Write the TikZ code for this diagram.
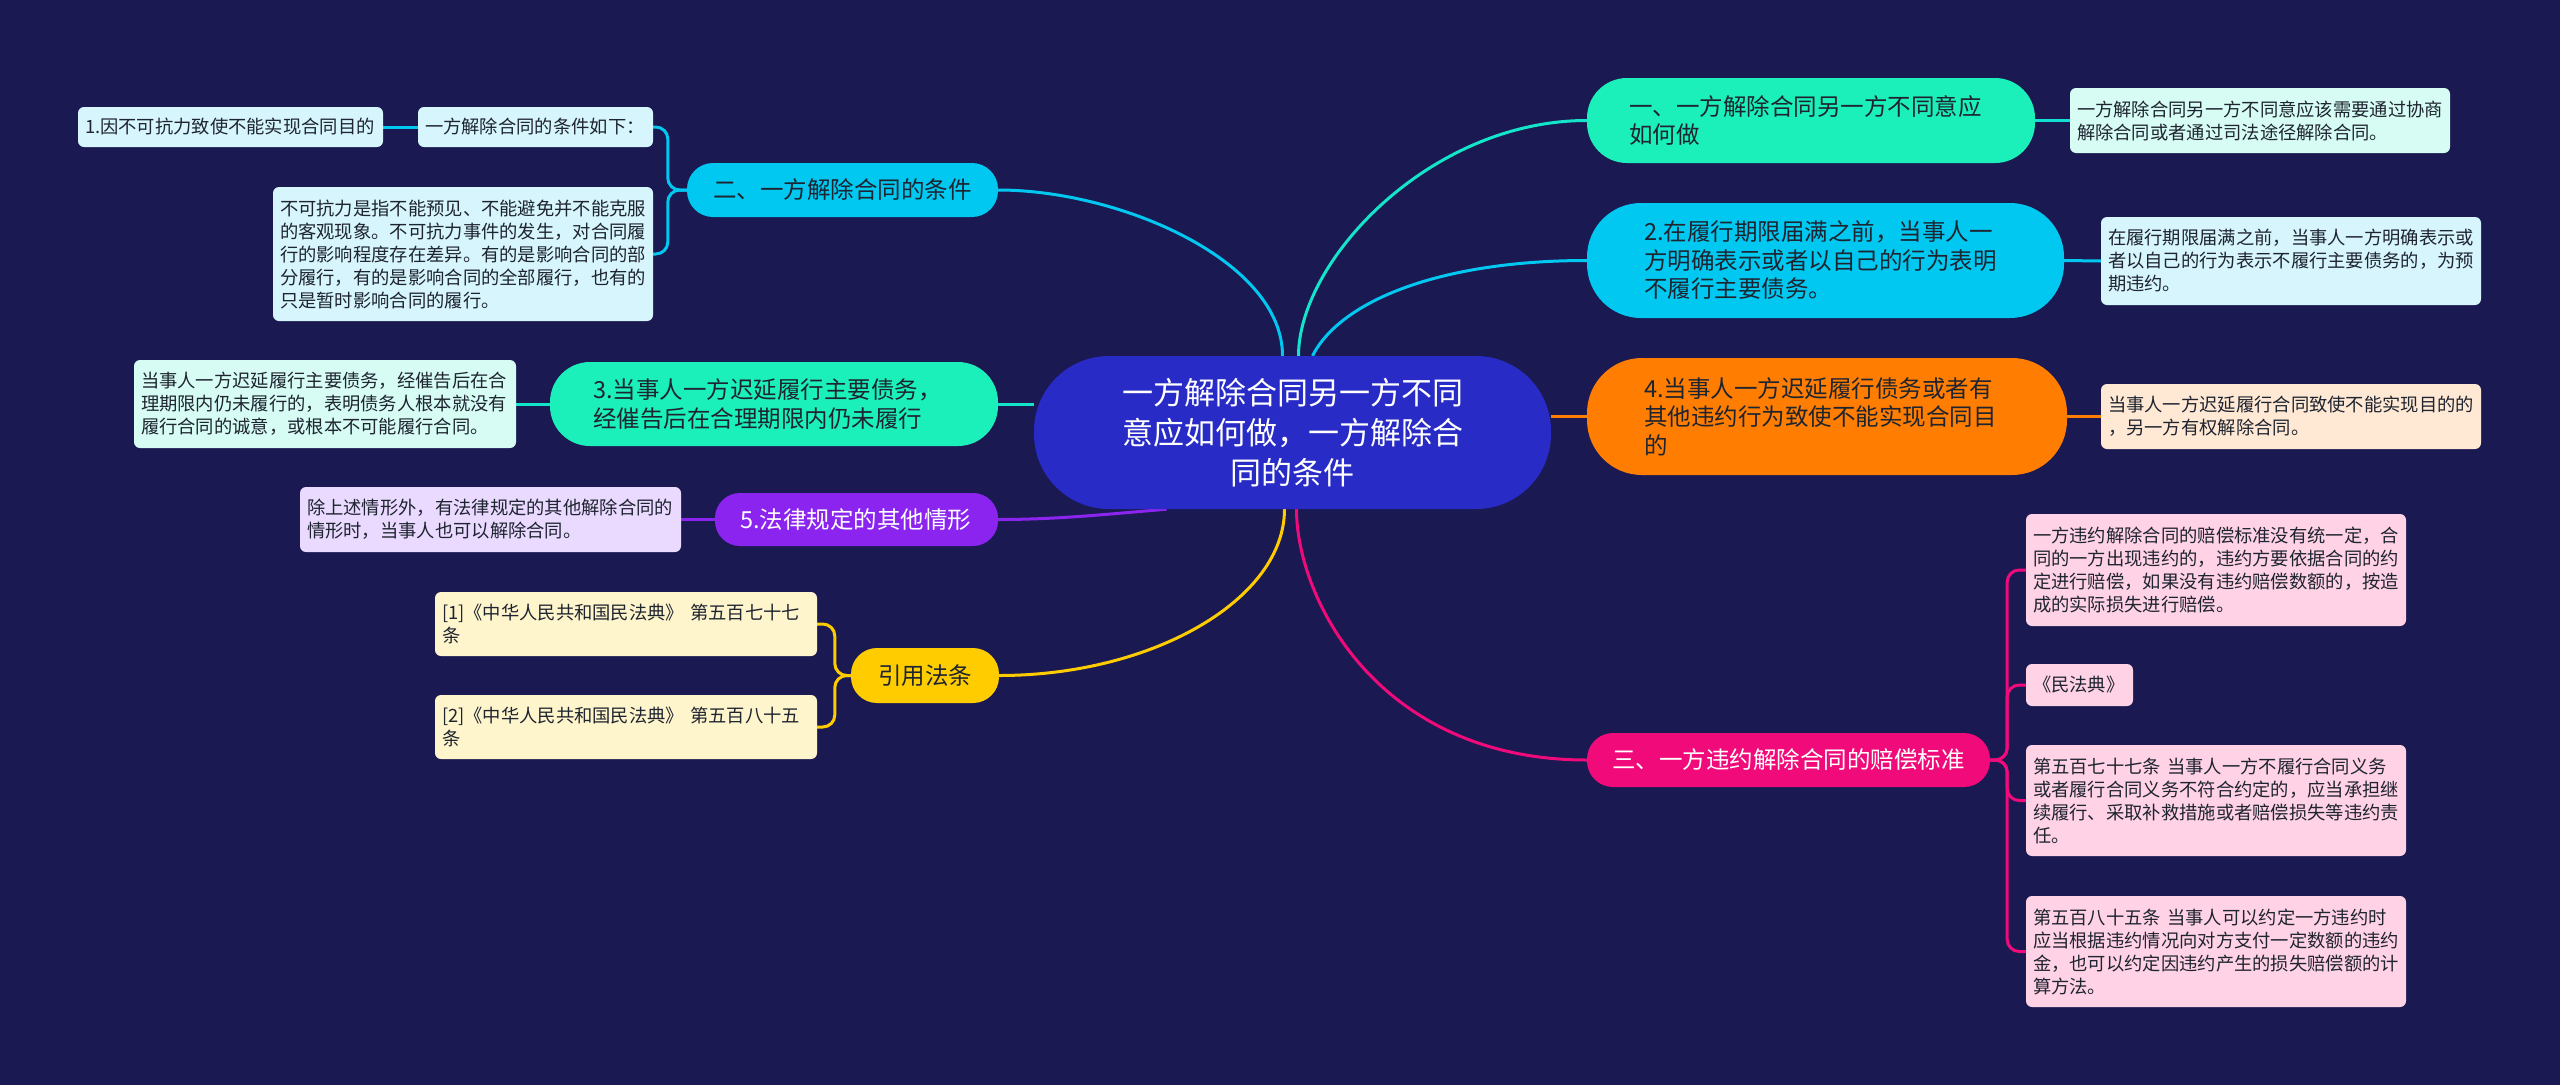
\documentclass[tikz,border=0pt]{standalone}
\usepackage{fontspec}
\setmainfont{Noto Sans CJK SC}
\usetikzlibrary{calc}
\definecolor{bgnavy}{RGB}{26,25,82}
\definecolor{rootblue}{RGB}{40,43,198}
\definecolor{mint}{RGB}{28,240,186}
\definecolor{sky}{RGB}{0,200,240}
\definecolor{orng}{RGB}{255,125,0}
\definecolor{mag}{RGB}{240,10,122}
\definecolor{purp}{RGB}{140,36,240}
\definecolor{gold}{RGB}{255,204,0}
\definecolor{mintlt}{RGB}{214,252,244}
\definecolor{skylt}{RGB}{214,245,252}
\definecolor{orngl}{RGB}{255,233,212}
\definecolor{pinklt}{RGB}{255,210,230}
\definecolor{purplt}{RGB}{234,218,255}
\definecolor{goldlt}{RGB}{255,245,204}
\definecolor{darktxt}{RGB}{30,36,48}
\pgfdeclarelayer{canvas}
\pgfdeclarelayer{wires}
\pgfsetlayers{canvas,wires,main}

\begin{document}
\begin{tikzpicture}[x=1pt,y=-1pt,
  root/.style={fill=rootblue,text=white,align=center,inner ysep=0pt,minimum height=153pt,
    rounded corners=75pt,font=\fontsize{31}{40}\selectfont},
  mainbox/.style={align=left,inner ysep=0pt,text=darktxt,font=\fontsize{23.5}{28.5}\selectfont},
  leaf/.style={align=left,inner ysep=0pt,inner xsep=7pt,text width=366pt,rounded corners=6pt,
    text=darktxt,font=\fontsize{18.3}{23}\selectfont},
  link/.style={line width=3pt},
  twig/.style={line width=3pt,rounded corners=12pt}]
% 배경
\begin{pgfonlayer}{canvas}
\fill[bgnavy] (0,0) rectangle (2560,1085);
\end{pgfonlayer}
\useasboundingbox (0,0) rectangle (2560,1085);
% 중심 노드
\node[root,text width=440pt,inner xsep=38.5pt] (root) at (1292.5,432.5)
  {一方解除合同另一方不同\\意应如何做，一方解除合\\同的条件};
% 오른쪽 가지
\node[mainbox,fill=mint,text width=364pt,inner xsep=42pt,minimum height=85pt,rounded corners=40pt]
  (b1) at (1811,120.5) {一、一方解除合同另一方不同意应\\如何做};
\node[leaf,fill=mintlt,minimum height=65pt] (c1) at (2260,120.5)
  {一方解除合同另一方不同意应该需要通过协商\\解除合同或者通过司法途径解除合同。};
\node[mainbox,fill=sky,text width=363pt,inner xsep=57pt,minimum height=115pt,rounded corners=54pt]
  (b2) at (1825.5,260.5) {2.在履行期限届满之前，当事人一\\方明确表示或者以自己的行为表明\\不履行主要债务。};
\node[leaf,fill=skylt,minimum height=88pt] (c2) at (2291,261)
  {在履行期限届满之前，当事人一方明确表示或\\者以自己的行为表示不履行主要债务的，为预\\期违约。};
\node[mainbox,fill=orng,text width=366pt,inner xsep=57pt,minimum height=117pt,rounded corners=55pt]
  (b3) at (1827,416.5) {4.当事人一方迟延履行债务或者有\\其他违约行为致使不能实现合同目\\的};
\node[leaf,fill=orngl,minimum height=65pt] (c3) at (2291,416.5)
  {当事人一方迟延履行合同致使不能实现目的的\\，另一方有权解除合同。};
\node[mainbox,fill=mag,text=white,text width=353pt,inner xsep=25pt,minimum height=54pt,rounded corners=26pt]
  (b4) at (1788.5,760) {三、一方违约解除合同的赔偿标准};
\node[leaf,fill=pinklt,minimum height=112pt] (d1) at (2216,570)
  {一方违约解除合同的赔偿标准没有统一定，合\\同的一方出现违约的，违约方要依据合同的约\\定进行赔偿，如果没有违约赔偿数额的，按造\\成的实际损失进行赔偿。};
\node[leaf,fill=pinklt,text width=93pt,minimum height=42pt] (d2) at (2079.5,685) {《民法典》};
\node[leaf,fill=pinklt,minimum height=111pt] (d3) at (2216,800.5)
  {第五百七十七条 当事人一方不履行合同义务\\或者履行合同义务不符合约定的，应当承担继\\续履行、采取补救措施或者赔偿损失等违约责\\任。};
\node[leaf,fill=pinklt,minimum height=111pt] (d4) at (2216,951.5)
  {第五百八十五条 当事人可以约定一方违约时\\应当根据违约情况向对方支付一定数额的违约\\金，也可以约定因违约产生的损失赔偿额的计\\算方法。};
% 왼쪽 가지
\node[mainbox,fill=sky,align=center,text width=259pt,inner xsep=26pt,minimum height=54pt,rounded corners=26pt]
  (a1) at (842.5,190) {二、一方解除合同的条件};
\node[leaf,fill=skylt,text width=221pt,minimum height=40pt] (e1) at (535.5,127) {一方解除合同的条件如下：};
\node[leaf,fill=skylt,text width=291pt,minimum height=40pt] (e11) at (230.5,127) {1.因不可抗力致使不能实现合同目的};
\node[leaf,fill=skylt,minimum height=134pt] (e2) at (463,254)
  {不可抗力是指不能预见、不能避免并不能克服\\的客观现象。不可抗力事件的发生，对合同履\\行的影响程度存在差异。有的是影响合同的部\\分履行，有的是影响合同的全部履行，也有的\\只是暂时影响合同的履行。};
\node[mainbox,fill=mint,text width=362pt,inner xsep=43pt,minimum height=84pt,rounded corners=40pt]
  (a2) at (774,404) {3.当事人一方迟延履行主要债务，\\经催告后在合理期限内仍未履行};
\node[leaf,fill=mintlt,text width=368pt,minimum height=88pt] (e3) at (325,404)
  {当事人一方迟延履行主要债务，经催告后在合\\理期限内仍未履行的，表明债务人根本就没有\\履行合同的诚意，或根本不可能履行合同。};
\node[mainbox,fill=purp,text=white,text width=233pt,inner xsep=25pt,minimum height=53pt,rounded corners=25pt]
  (a3) at (856.5,519.5) {5.法律规定的其他情形};
\node[leaf,fill=purplt,text width=367pt,minimum height=65pt] (e4) at (490.5,519.5)
  {除上述情形外，有法律规定的其他解除合同的\\情形时，当事人也可以解除合同。};
\node[mainbox,fill=gold,align=center,text width=100pt,inner xsep=24pt,minimum height=55pt,rounded corners=26pt]
  (a4) at (925,675.5) {引用法条};
\node[leaf,fill=goldlt,text width=368pt,minimum height=64pt] (e5) at (626,624)
  {[1]《中华人民共和国民法典》 第五百七十七\\条};
\node[leaf,fill=goldlt,text width=368pt,minimum height=64pt] (e6) at (626,727)
  {[2]《中华人民共和国民法典》 第五百八十五\\条};
% 연결선
\begin{pgfonlayer}{wires}
\draw[link,mint!70!sky] ([xshift=6pt]root.north) .. controls +(0,-95) and +(-157,0) .. (b1.west);
\draw[link,sky] ([xshift=20pt]root.north) .. controls +(28,-55) and +(-147,0) .. (b2.west);
\draw[link,orng] (root.east |- b3.west) -- (b3.west);
\draw[link,mag] ([xshift=4pt]root.south) .. controls +(0,91) and +(-207,0) .. (b4.west);
\draw[link,sky] ([xshift=-10pt]root.north) .. controls +(0,-95) and +(122,0) .. (a1.east);
\draw[link,mint!70!sky] (root.west |- a2.east) -- (a2.east);
\draw[link,purp] ([xshift=-126pt]root.south) .. controls +(-60,5) and +(60,0) .. (a3.east);
\draw[link,gold] ([xshift=-8pt]root.south) .. controls +(0,90) and +(154,0) .. (a4.east);
% 하위 연결선
\draw[link,mint!60!sky] (b1.east) -- (c1.west);
\draw[link,sky] (b2.east) -- (c2.west);
\draw[link,orng] (b3.east) -- (c3.west);
\foreach \k in {d1,d2,d3,d4}
  \draw[twig,mag] (b4.east) -- ++(17,0) |- (\k.west);
\foreach \k in {e1,e2}
  \draw[twig,sky] (a1.west) -- ++(-19,0) |- (\k.east);
\draw[link,sky] (e1.west) -- (e11.east);
\draw[link,mint!70!sky] (a2.west) -- (e3.east);
\draw[link,purp] (a3.west) -- (e4.east);
\foreach \k in {e5,e6}
  \draw[twig,gold] (a4.west) -- ++(-16,0) |- (\k.east);
\end{pgfonlayer}
\end{tikzpicture}
\end{document}
